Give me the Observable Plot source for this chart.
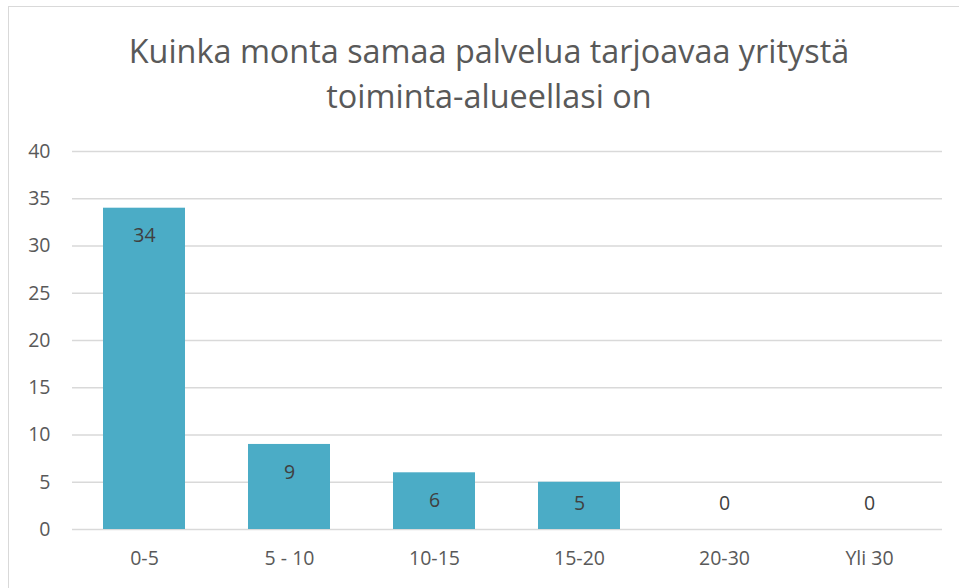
<!DOCTYPE html>
<html><head><meta charset="utf-8">
<script src="https://cdn.jsdelivr.net/npm/d3@7"></script>
<script src="https://cdn.jsdelivr.net/npm/@observablehq/plot@0.6"></script>
<style>
body{margin:0;background:#fff;overflow:hidden;}
#frame{position:absolute;left:8px;top:6px;width:980px;height:620px;border-left:1.5px solid #d9d9d9;border-top:1.5px solid #d9d9d9;}
#title{position:absolute;left:0;top:28px;width:978px;text-align:center;font-family:"Open Sans",sans-serif;font-size:32.4px;line-height:45px;color:#595959;}
#chart{position:absolute;left:0;top:130px;}
</style>
</head><body>
<div id="frame"></div>
<div id="title">Kuinka monta samaa palvelua tarjoavaa yritystä<br>toiminta-alueellasi on</div>
<div id="chart"></div>
<script>
const categories = ["0-5", "5 - 10", "10-15", "15-20", "20-30", "Yli 30"];
const values = [34, 9, 6, 5, 0, 0];
const yTicks = [0, 5, 10, 15, 20, 25, 30, 35, 40];

const data = categories.map((c, i) => ({cat: c, value: values[i]}));

const chart = Plot.plot({
  width: 959,
  height: 458,
  marginLeft: 72,
  marginRight: 17,
  marginTop: 21,
  marginBottom: 59,
  style: {fontFamily: "'Open Sans', sans-serif", fontSize: "17px", color: "#595959", background: "transparent"},
  x: {domain: categories, paddingInner: 0.434, paddingOuter: 0.217, label: null},
  y: {domain: [0, 40], label: null},
  marks: [
    Plot.gridY(yTicks, {stroke: "#d9d9d9", strokeOpacity: 1, strokeWidth: 1.5}),
    Plot.barY(data, {x: "cat", y: "value", fill: "#4BACC6"}),
    Plot.axisY(yTicks, {tickSize: 0, tickPadding: 22, fontSize: 19.5, fill: "#595959", label: null}),
    Plot.axisX({tickSize: 0, tickPadding: 22, fontSize: 19.5, fill: "#595959", label: null}),
    // labels inside the bar end
    Plot.text(data.filter(d => d.value > 5), {x: "cat", y: "value", text: d => String(d.value), dy: 28, fill: "#404040", fontSize: 19.5}),
    // short bars: label centred in the bar
    Plot.text(data.filter(d => d.value > 0 && d.value <= 5), {x: "cat", y: d => d.value / 2, text: d => String(d.value), dy: -2, fill: "#404040", fontSize: 19.5}),
    // zero values: label above the baseline
    Plot.text(data.filter(d => d.value === 0), {x: "cat", y: "value", text: d => String(d.value), dy: -26, fill: "#404040", fontSize: 19.5})
  ]
});
document.getElementById("chart").appendChild(chart);
</script>
</body></html>
